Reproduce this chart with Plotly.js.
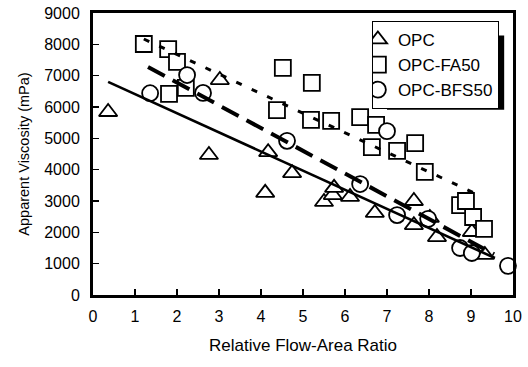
<!DOCTYPE html>
<html>
<head>
<meta charset="utf-8">
<script src="https://cdn.plot.ly/plotly-3.0.1.min.js"></script>
<style>html,body{margin:0;padding:0;background:#fff;}#chart{width:528px;height:367px;}</style>
</head>
<body>
<div id="chart"></div>
<script>
// ---- data ----
const seriesNames = ["OPC", "OPC-FA50", "OPC-BFS50"];

const opcX = [0.36, 3.02, 2.76, 4.10, 4.17, 4.74, 5.50, 5.71, 5.74, 6.12, 6.71, 7.64, 7.64, 8.02, 8.19, 9.02, 9.33];
const opcY = [5840, 6860, 4470, 3260, 4560, 3890, 2970, 3190, 3420, 3130, 2620, 3000, 2230, 2460, 1850, 2010, 1280];

const fa50X = [1.21, 1.79, 2.00, 1.81, 2.21, 4.52, 5.21, 4.38, 5.19, 5.67, 6.36, 6.74, 6.64, 7.24, 7.67, 7.90, 8.74, 8.88, 9.05, 9.31];
const fa50Y = [8010, 7850, 7440, 6420, 6610, 7250, 6770, 5900, 5590, 5560, 5680, 5430, 4720, 4600, 4850, 3930, 2870, 3000, 2490, 2110];

const bfsX = [1.36, 2.24, 2.62, 4.62, 6.36, 7.00, 7.24, 7.98, 8.74, 9.02, 9.88];
const bfsY = [6440, 7020, 6450, 4920, 3540, 5230, 2550, 2430, 1500, 1340, 930];

// trend lines (end points)
const opcTrendX = [0.36, 9.57];
const opcTrendY = [6800, 1180];
const fa50TrendX = [1.21, 9.10];
const fa50TrendY = [8170, 3240];
const bfsTrendX = [1.31, 9.55];
const bfsTrendY = [7280, 1300];

const xTicks = [0, 1, 2, 3, 4, 5, 6, 7, 8, 9, 10];
const yTicks = [0, 1000, 2000, 3000, 4000, 5000, 6000, 7000, 8000, 9000];

const FONT = "Liberation Sans, Arial, Helvetica, sans-serif";

function markerTrace(x, y, name, symbol, size) {
  return {
    x: x, y: y, name: name, type: "scatter", mode: "markers",
    marker: {symbol: symbol, size: size, color: "#ffffff", line: {color: "#000", width: 1.8}},
    cliponaxis: false
  };
}
function lineTrace(x, y, width, dash) {
  return {
    x: x, y: y, type: "scatter", mode: "lines", showlegend: false, hoverinfo: "skip",
    line: {color: "#000", width: width, dash: dash}
  };
}

const data = [
  markerTrace(opcX, opcY, seriesNames[0], "triangle-up", 16),
  markerTrace(fa50X, fa50Y, seriesNames[1], "square", 16),
  markerTrace(bfsX, bfsY, seriesNames[2], "circle", 16),
  lineTrace(opcTrendX, opcTrendY, 2.6, "solid"),
  lineTrace(fa50TrendX, fa50TrendY, 3, "6px,11px"),
  lineTrace(bfsTrendX, bfsTrendY, 4, "19px,9px")
];

const layout = {
  width: 528, height: 367,
  margin: {l: 93, r: 15, t: 13, b: 72},
  paper_bgcolor: "#fff", plot_bgcolor: "#fff",
  font: {family: FONT, color: "#000", size: 16},
  showlegend: true,
  legend: {
    x: 0.664, y: 0.972, xanchor: "left", yanchor: "top",
    bgcolor: "#fff", bordercolor: "#000", borderwidth: 1,
    font: {family: FONT, size: 17, color: "#000"},
    itemwidth: 30, tracegroupgap: 0, indentation: -15
  },
  shapes: [
    {type: "rect", xref: "paper", yref: "paper",
     x0: 0.70, x1: 0.979, y0: 0.657, y1: 0.92,
     fillcolor: "#000", line: {width: 0}}
  ],
  xaxis: {
    range: [0, 10], tickvals: xTicks, ticktext: xTicks.map(String),
    showgrid: false, zeroline: false,
    showline: true, linecolor: "#000", linewidth: 3, mirror: true,
    ticks: "inside", ticklen: 6, tickwidth: 1.5, tickcolor: "#000",
    ticklabelstandoff: 5,
    tickfont: {family: FONT, size: 16},
    title: {text: "Relative Flow-Area Ratio", font: {family: FONT, size: 17}, standoff: 15}
  },
  yaxis: {
    range: [0, 9000], tickvals: yTicks, ticktext: yTicks.map(String),
    showgrid: false, zeroline: false,
    showline: true, linecolor: "#000", linewidth: 3, mirror: true,
    ticks: "inside", ticklen: 6, tickwidth: 1.5, tickcolor: "#000",
    ticklabelstandoff: 7,
    tickfont: {family: FONT, size: 16},
    title: {text: "Apparent Viscosity (mPa)", font: {family: FONT, size: 14.5}, standoff: 12}
  }
};

Plotly.newPlot("chart", data, layout, {displayModeBar: false, staticPlot: true});
</script>
</body>
</html>
